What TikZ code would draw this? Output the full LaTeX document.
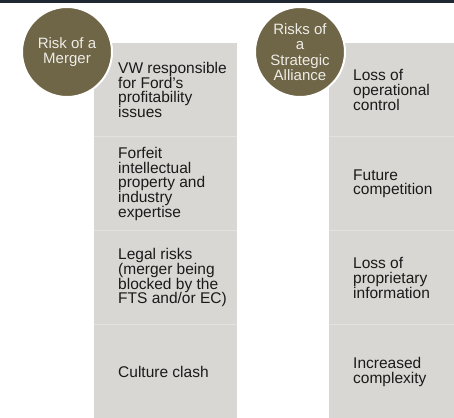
\documentclass[tikz,border=0pt]{standalone}
\usepackage{fontspec}
\setmainfont{Liberation Sans}
\usetikzlibrary{positioning}
\definecolor{boxgray}{HTML}{D9D7D3}
\definecolor{linegray}{HTML}{E4E2DE}
\definecolor{headbrown}{HTML}{6F6547}
\definecolor{headtext}{HTML}{EEECE6}
\definecolor{textdark}{HTML}{1A1A1A}
\definecolor{topbar}{HTML}{1F2733}

\begin{document}
\begin{tikzpicture}[x=1pt,y=1pt,
                    row box/.style={rectangle,fill=boxgray,inner sep=0pt,minimum height=93.5pt},
                    left box/.style={row box,minimum width=143pt},
                    right box/.style={row box,minimum width=125pt},
                    risk text/.style={align=left,inner sep=0pt,text=textdark,font=\fontsize{15.5}{14.8}\selectfont},
                    head node/.style={circle,fill=headbrown,draw=white,line width=2pt,minimum size=90pt,
                                      inner sep=0pt,align=center,text=headtext,font=\fontsize{15}{15.3}\selectfont},
                    divider/.style={draw=linegray,line width=1pt}]

  \useasboundingbox (0,0) rectangle (454,-417);
  \fill[topbar] (0,0) rectangle (454,-3);

  \node[left box,anchor=north west] (m1) at (94,-43) {};
  \node[left box] (m2) [below=0pt of m1] {};
  \node[left box] (m3) [below=0pt of m2] {};
  \node[left box] (m4) [below=0pt of m3] {};

  \node[right box,anchor=north west] (a1) at (329,-43) {};
  \node[right box] (a2) [below=0pt of a1] {};
  \node[right box] (a3) [below=0pt of a2] {};
  \node[right box] (a4) [below=0pt of a3] {};

  \foreach \r in {m1,m2,m3,a1,a2,a3}
    \draw[divider] (\r.south west) -- (\r.south east);

  \node[risk text] (mt1) [right=24pt of m1.west] {VW responsible\\for Ford's\\profitability\\issues};
  \node[risk text] (mt2) [right=24pt of m2.west] {Forfeit\\intellectual\\property and\\industry\\expertise};
  \node[risk text] (mt3) [right=24pt of m3.west] {Legal risks\\(merger being\\blocked by the\\FTS and/or EC)};
  \node[risk text] (mt4) [right=24pt of m4.west] {Culture clash};

  \node[risk text] (at1) [right=24pt of a1.west] {Loss of\\operational\\control};
  \node[risk text] (at2) [right=24pt of a2.west] {Future\\competition};
  \node[risk text] (at3) [right=24pt of a3.west] {Loss of\\proprietary\\information};
  \node[risk text] (at4) [right=24pt of a4.west] {Increased\\complexity};

  \node[head node] (merger) at (67,-52) {Risk of a\\Merger};
  \node[head node] (alliance) at (300,-52) {Risks of\\a\\Strategic\\Alliance};

\end{tikzpicture}
\end{document}
